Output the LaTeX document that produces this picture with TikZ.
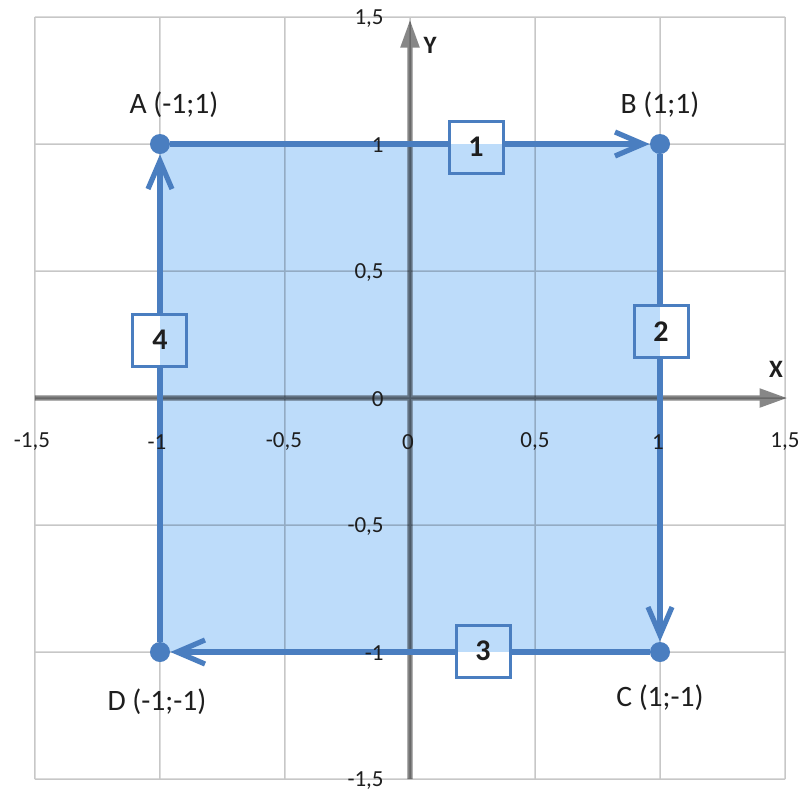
\documentclass[tikz,border=0pt]{standalone}
\usepackage{fontspec}
\setmainfont{Carlito}
\usetikzlibrary{arrows.meta}
\definecolor{sqfill}{HTML}{BDDCFA}
\definecolor{sqline}{HTML}{4A7EC0}
\definecolor{txt}{HTML}{1E1E1E}
\tikzset{
  gridline/.style={black, line width=0.75pt},
  axisline/.style={black, line width=2.6pt, -{Triangle[length=14pt,width=9pt]}},
  sqedge/.style={sqline, line width=2.6pt, -{Straight Barb[length=14pt,width=12pt]}},
  corner/.style={circle, fill=sqline, inner sep=0pt, minimum size=10pt},
  numbox/.style={draw=sqline, line width=1.5pt, fill=white, minimum width=27pt, minimum height=26pt, inner sep=0pt,
    font=\bfseries\fontsize{15}{15}\selectfont, text=txt,
    path picture={\fill[sqfill] (SW) rectangle (NE);}},
  ptlabel/.style={font=\fontsize{14.8}{14.8}\selectfont, text=txt, inner sep=0pt},
  ticklabel/.style={font=\fontsize{11.5}{11.5}\selectfont, text=txt, inner sep=0pt},
  axlabel/.style={font=\bfseries\fontsize{12.5}{12.5}\selectfont, text=txt, inner sep=0pt}
}
\begin{document}
\begin{tikzpicture}[x=125pt,y=127pt]
\useasboundingbox (-1.64,-1.547) rectangle (1.568,1.567);
\fill[white] (-1.64,-1.547) rectangle (1.568,1.567);
\coordinate (SW) at (-1,-1);
\coordinate (NE) at (1,1);
\fill[sqfill] (SW) rectangle (NE);
% grid
\begin{scope}[transparency group, opacity=0.22]
\foreach \v in {-1.5,-1,-0.5,0,0.5,1,1.5} {
  \draw[gridline] (\v,-1.5) -- (\v,1.5);
  \draw[gridline] (-1.5,\v) -- (1.5,\v);
}
\end{scope}
% axes
\coordinate (xl) at (-1.5,0);
\coordinate (xr) at (1.51,0);
\coordinate (yb) at (0,-1.5);
\coordinate (yt) at (0,1.49);
\begin{scope}[transparency group, opacity=0.47]
\draw[axisline] (xl) -- (xr);
\draw[axisline] (yb) -- (yt);
\end{scope}
% corners
\node[corner] (A) at (-1,1) {};
\node[corner] (B) at (1,1) {};
\node[corner] (C) at (1,-1) {};
\node[corner] (D) at (-1,-1) {};
\draw[sqedge] (A) -- (B);
\draw[sqedge] (B) -- (C);
\draw[sqedge] (C) -- (D);
\draw[sqedge] (D) -- (A);
% number boxes
\node[numbox] (n1) at (0.264,0.988) {1};
\node[numbox] (n2) at (1.004,0.26) {2};
\node[numbox] (n3) at (0.292,-0.996) {3};
\node[numbox] (n4) at (-1.0,0.228) {4};
% point labels
\node[ptlabel] (lA) at (-0.944,1.154) {A (-1;1)};
\node[ptlabel] (lB) at (1.0,1.154) {B (1;1)};
\node[ptlabel] (lC) at (1.0,-1.181) {C (1;-1)};
\node[ptlabel] (lD) at (-1.012,-1.197) {D (-1;-1)};
% axis names
\node[axlabel] (lX) at (1.464,0.114) {X};
\node[axlabel] (lY) at (0.08,1.39) {Y};
% x tick labels
\node[ticklabel] (tx1) at (-1.512,-0.173) {-1,5};
\node[ticklabel] (tx2) at (-1.012,-0.173) {-1};
\node[ticklabel] (tx3) at (-0.504,-0.173) {-0,5};
\node[ticklabel] (tx4) at (-0.008,-0.173) {0};
\node[ticklabel] (tx5) at (0.5,-0.173) {0,5};
\node[ticklabel] (tx6) at (0.992,-0.173) {1};
\node[ticklabel] (tx7) at (1.5,-0.173) {1,5};
% y tick labels
\node[ticklabel, anchor=east] (ty1) at (-0.104,1.495) {1,5};
\node[ticklabel, anchor=east] (ty2) at (-0.104,0.995) {1};
\node[ticklabel, anchor=east] (ty3) at (-0.104,0.495) {0,5};
\node[ticklabel, anchor=east] (ty4) at (-0.104,-0.005) {0};
\node[ticklabel, anchor=east] (ty5) at (-0.104,-0.505) {-0,5};
\node[ticklabel, anchor=east] (ty6) at (-0.104,-1.005) {-1};
\node[ticklabel, anchor=east] (ty7) at (-0.104,-1.505) {-1,5};
\end{tikzpicture}
\end{document}
